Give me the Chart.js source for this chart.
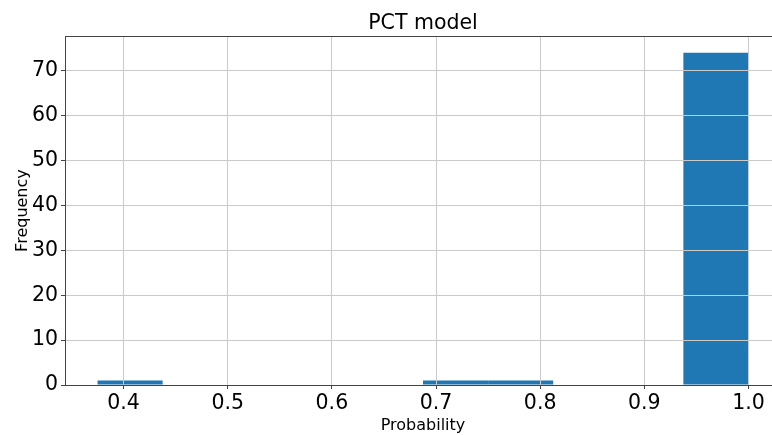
<!DOCTYPE html>
<html>
<head>
<meta charset="utf-8">
<script src="https://cdn.jsdelivr.net/npm/chart.js@4/dist/chart.umd.min.js"></script>
<style>
  html, body { margin: 0; padding: 0; background: #fff; overflow: hidden; }
  #wrap { width: 781px; height: 435px; }
</style>
</head>
<body>
<div id="wrap"><canvas id="histChart"></canvas></div>
<script>
// histogram bins (10 bins from 0.375 to 1.0)
const binEdges = [0.375, 0.4375, 0.5, 0.5625, 0.625, 0.6875, 0.75, 0.8125, 0.875, 0.9375, 1.0];
const counts = [1, 0, 0, 0, 0, 1, 1, 0, 0, 74];
const xTicks = [0.4, 0.5, 0.6, 0.7, 0.8, 0.9, 1.0];
const yTicks = [0, 10, 20, 30, 40, 50, 60, 70];

const points = counts.map((c, i) => ({ x: (binEdges[i] + binEdges[i + 1]) / 2, y: c }));

// matplotlib style box around the axes
const frame = {
    id: 'frame',
    afterDraw(chart) {
        const a = chart.chartArea;
        const c = chart.ctx;
        c.save();
        c.strokeStyle = '#444';
        c.lineWidth = 1;
        c.strokeRect(Math.round(a.left) + 0.5, Math.round(a.top) + 0.5,
            Math.round(a.right - a.left), Math.round(a.bottom - a.top));
        c.restore();
    }
};

new Chart(document.getElementById('histChart'), {
    type: 'bar',
    data: {
        datasets: [{
            data: points,
            backgroundColor: '#1f77b4',
            borderWidth: 0,
            inflateAmount: 0,
            barPercentage: 1.0,
            categoryPercentage: 1.0
        }]
    },
    plugins: [frame],
    options: {
        responsive: true,
        maintainAspectRatio: false,
        animation: false,
        layout: { padding: 0 },
        plugins: {
            legend: { display: false },
            tooltip: { enabled: false },
            title: {
                display: true,
                fullSize: false,
                text: 'PCT model',
                color: '#000',
                font: { family: 'DejaVu Sans', size: 20.5, weight: 'normal' },
                padding: { top: 11.5, bottom: 0 }
            }
        },
        scales: {
            x: {
                type: 'linear',
                offset: false,
                min: 0.34375,
                max: 1.03125,
                afterBuildTicks: (s) => { s.ticks = xTicks.map(v => ({ value: v })); },
                afterFit: (s) => { s.height = 50; },
                grid: { offset: false, color: '#cacaca', lineWidth: 1, z: 1, tickLength: 4, tickColor: '#444' },
                border: { display: false },
                ticks: {
                    color: '#000',
                    padding: 2,
                    maxRotation: 0,
                    font: { family: 'DejaVu Sans', size: 20.5 },
                    callback: (v) => Number(v).toFixed(1)
                },
                title: {
                    display: true,
                    text: 'Probability',
                    color: '#000',
                    font: { family: 'DejaVu Sans', size: 16 },
                    padding: { top: 0, bottom: 0 }
                }
            },
            y: {
                min: 0,
                max: 77.7,
                afterBuildTicks: (s) => { s.ticks = yTicks.map(v => ({ value: v })); },
                afterFit: (s) => { s.width = 65; },
                grid: { color: '#cacaca', lineWidth: 1, z: 1, tickLength: 4, tickColor: '#444' },
                border: { display: false },
                ticks: {
                    color: '#000',
                    padding: 3,
                    font: { family: 'DejaVu Sans', size: 20.5 }
                },
                title: {
                    display: true,
                    text: 'Frequency',
                    color: '#000',
                    font: { family: 'DejaVu Sans', size: 16 },
                    padding: { top: 13, bottom: 0 }
                }
            }
        }
    }
});
</script>
</body>
</html>
